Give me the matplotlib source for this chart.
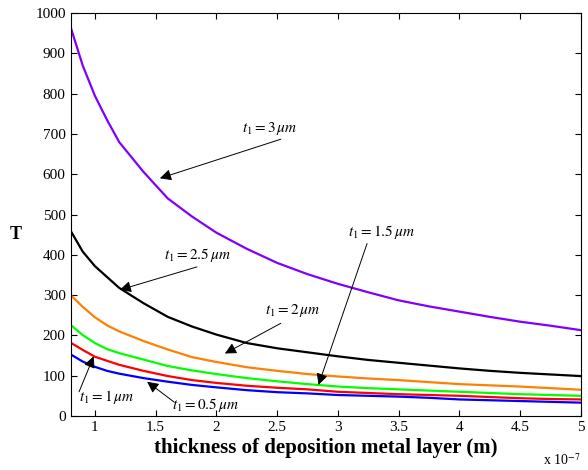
import numpy as np
import matplotlib
matplotlib.use('Agg')
import matplotlib.pyplot as plt

plt.rcParams['font.family'] = 'Liberation Serif'
plt.rcParams['mathtext.fontset'] = 'stix'

# thickness (x 1e-7 m)
thickness = [0.8, 0.9, 1.0, 1.1, 1.2, 1.4, 1.6, 1.8, 2.0, 2.25, 2.5, 2.75,
             3.0, 3.25, 3.5, 3.75, 4.0, 4.25, 4.5, 4.75, 5.0]

T_3um = [966, 870, 795, 735, 680, 606, 540, 495, 455, 415, 380, 352,
         328, 307, 287, 272, 259, 246, 234, 224, 213]
T_2p5um = [460, 408, 372, 345, 318, 280, 246, 222, 202, 181, 168, 158,
           148, 139, 132, 125, 118, 112, 107, 103, 99]
T_2um = [300, 271, 245, 225, 210, 186, 165, 146, 134, 121, 112, 104,
         98, 93, 89, 84, 79, 76, 73, 69, 65]
T_1p5um = [226, 201, 181, 166, 156, 140, 124, 113, 104, 94, 86, 79,
           73, 69, 66, 63, 60, 57, 54, 52, 50]
T_1um = [182, 164, 147, 137, 127, 112, 99, 89, 82, 75, 70, 66,
         60, 57, 54, 52, 50, 47, 44, 42, 41]
T_0p5um = [153, 135, 122, 112, 105, 94, 85, 77, 71, 64, 59, 56,
           52, 50, 48, 45, 41, 39, 37, 35, 33]

series = [
    (T_3um, '#8000ff'),
    (T_2p5um, 'black'),
    (T_2um, '#ff8000'),
    (T_1p5um, '#00ff00'),
    (T_1um, '#ff0000'),
    (T_0p5um, '#0000ff'),
]

# (label, text pos, arrow tail, arrow head) in data coords
notes = [
    (r'$t_1 = 3\,\mu m$', (2.44, 714), (2.53, 687), (1.535, 590)),
    (r'$t_1 = 2.5\,\mu m$', (1.84, 400), (1.84, 370), (1.205, 313)),
    (r'$t_1 = 2\,\mu m$', (2.63, 263), (2.53, 230), (2.07, 155)),
    (r'$t_1 = 1.5\,\mu m$', (3.36, 457), (3.24, 428), (2.84, 77)),
    (r'$t_1 = 1\,\mu m$', (1.10, 48), (0.87, 60), (0.99, 148)),
    (r'$t_1 = 0.5\,\mu m$', (1.91, 26), (1.65, 35), (1.43, 85)),
]

fig = plt.figure(figsize=(5.88, 4.70), dpi=100)
ax = fig.add_axes([0.12, 0.115, 0.868, 0.857])

for vals, c in series:
    ax.plot(thickness, vals, '-', color=c, linewidth=1.6)

for label, txt, tail, head in notes:
    ax.text(txt[0], txt[1], label, fontsize=11, ha='center', va='center')
    ax.annotate('', xy=head, xytext=tail,
                arrowprops=dict(arrowstyle='-|>', color='black', lw=0.7,
                                mutation_scale=17, shrinkA=0, shrinkB=0))

ax.set_xlim(0.8, 5)
ax.set_ylim(0, 1000)
ax.set_xticks(np.arange(1, 5.01, 0.5))
ax.set_xticklabels(['1', '1.5', '2', '2.5', '3', '3.5', '4', '4.5', '5'])
ax.set_yticks(np.arange(0, 1001, 100))
ax.tick_params(direction='in', top=True, right=True, labelsize=11, length=4)

ax.set_xlabel('thickness of deposition metal layer (m)', fontsize=15,
              fontweight='bold', labelpad=3)
ax.set_ylabel('T', fontsize=13, fontweight='bold', rotation=0,
              ha='center', va='center')
ax.yaxis.set_label_coords(-0.108, 0.45)
fig.text(0.955, 0.005, r'x 10$^{-7}$', fontsize=10, ha='center', va='bottom')

fig.savefig('out.png', dpi=100)
